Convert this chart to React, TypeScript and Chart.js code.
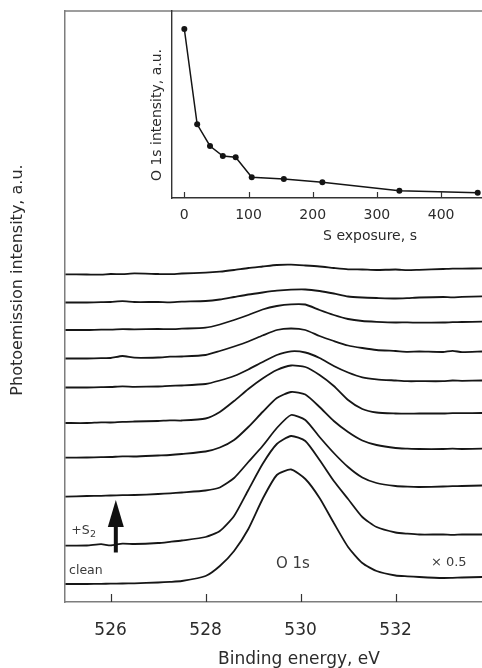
import React, { useEffect, useRef } from "react";
import { Chart, registerables } from "chart.js";

Chart.register(...registerables);

// ---------- Main panel data: O 1s spectra (binding energy, eV) ----------
const energyEV = [525.05, 525.5, 525.8, 526, 526.25, 526.5, 527, 527.25, 527.5, 528, 528.3, 528.6, 528.9, 529.2, 529.5, 529.8, 530.1, 530.4, 530.7, 531.0, 531.3, 531.6, 532, 532.25, 532.5, 533, 533.2, 533.4, 533.82];

// intensity incl. vertical offset (a.u.), top trace = longest S exposure
const spec455s = [327.7, 327.5, 327.3, 328, 327.8, 328.6, 328, 327.8, 328.5, 329.3, 330.3, 332, 334, 335.5, 337, 337.3, 336.5, 335.5, 334, 332.7, 332.5, 332, 332.5, 331.8, 332.2, 333, 333.4, 333.3, 333.7];
const spec335s = [299.5, 299.5, 299.8, 300, 300.8, 300, 300, 299.7, 300.3, 301, 302.5, 305, 307.5, 309.5, 311.3, 312.3, 312.5, 311, 308.5, 305.5, 304.5, 304, 303.5, 303.9, 304.5, 305, 304.6, 305.2, 305.7];
const spec215s = [272, 272, 272.4, 272.3, 272.8, 272.7, 273, 272.8, 273.3, 274.3, 277.5, 282, 287, 292.5, 296, 297.7, 297.5, 292, 287, 283, 281, 280.2, 279.5, 279.6, 279.3, 279.5, 279.8, 280, 280.3];
const spec155s = [243.5, 243.5, 243.8, 244, 246, 244.3, 244.5, 245.3, 245.5, 247, 251, 255.5, 260.5, 266.5, 272, 273.5, 272, 266, 261, 256.5, 254, 252, 251, 250.2, 250.5, 250, 251.2, 249.8, 250.5];
const spec105s = [214.5, 214.5, 214.8, 215, 215.6, 215.2, 215.5, 216.2, 216.5, 218, 221.5, 226, 232.5, 240, 247, 250.7, 249.5, 244, 236, 229.5, 224.7, 222.7, 221.5, 220.8, 220.8, 220.8, 221.5, 221.2, 221.5];
const spec80s = [179, 179, 179.6, 179.5, 180.2, 180.5, 181, 181.6, 181.5, 183.5, 190, 201, 213, 223.5, 232, 236.5, 235, 227, 216, 202, 193, 189.5, 188.5, 188.3, 188.5, 188.5, 188.9, 188.8, 189];
const spec60s = [144.3, 144.5, 144.8, 145, 145.6, 145.5, 146.5, 147, 148, 150.5, 154.5, 162, 175, 190, 204, 210, 207.5, 195, 181, 170, 161.5, 157, 154, 153.4, 153, 153, 153.3, 153, 153.3];
const spec40s = [105.3, 106, 106.2, 106.5, 106.9, 107, 108, 108.6, 109.5, 111.5, 114.5, 124, 140, 156, 174, 187, 182, 165, 149, 135, 124.5, 119, 116, 115.3, 115, 115.5, 115.9, 116, 116.5];
const spec20s = [56.3, 56.5, 57.8, 56.6, 58.4, 58, 59, 60.2, 61.5, 65, 71, 86, 112, 138, 158, 166, 161, 142, 121, 103, 85, 75, 69.5, 68.3, 67.5, 67.5, 67.1, 67.5, 67.5];
const specClean = [18, 18, 18.2, 18.3, 18.5, 18.7, 19.5, 20.1, 21, 26, 36, 51, 73, 103, 127, 132.5, 123, 104, 79, 55, 39, 31, 26.5, 25.7, 25, 24, 24.2, 24.5, 25];

const spectra = [spec455s, spec335s, spec215s, spec155s, spec105s, spec80s, spec60s, spec40s, spec20s, specClean];
const energyTicks = [526, 528, 530, 532];

// ---------- Inset data: O 1s intensity vs S exposure ----------
const exposureS = [0, 20, 40, 60, 80, 105, 155, 215, 335, 457];
const o1sIntensity = [169, 73.7, 52, 42, 40.7, 20.7, 19, 15.7, 7.3, 5.3];
const exposureTicks = [0, 100, 200, 300, 400];

const FONT = '"DejaVu Sans", sans-serif';
const TEXT = "#2b2b2b";

function drawInwardTicks(chart: any, id: string, len: number, color: string, width: number) {
  const s = chart.scales[id];
  const ctx = chart.ctx;
  const bottom = chart.chartArea.bottom;
  ctx.save();
  ctx.strokeStyle = color;
  ctx.lineWidth = width;
  s.ticks.forEach((t: any) => {
    const x = Math.round(s.getPixelForValue(t.value)) + 0.5;
    ctx.beginPath();
    ctx.moveTo(x, bottom);
    ctx.lineTo(x, bottom - len);
    ctx.stroke();
  });
  ctx.restore();
}

const mainPlugin = {
  id: "mainDecor",
  afterDraw(chart: any) {
    const ctx = chart.ctx;
    const { left, right, top } = chart.chartArea;
    const xs = chart.scales.x;
    const ys = chart.scales.y;
    drawInwardTicks(chart, "x", 8, "#333", 1.2);
    ctx.save();
    ctx.strokeStyle = "#7d7d7d";
    ctx.lineWidth = 1.5;
    ctx.beginPath();
    ctx.moveTo(left, top);
    ctx.lineTo(right, top);
    ctx.stroke();

    ctx.fillStyle = TEXT;
    ctx.textAlign = "center";
    ctx.textBaseline = "middle";
    ctx.font = `17px ${FONT}`;
    ctx.fillText("Binding energy, eV", 299, 660);
    ctx.save();
    ctx.translate(18, 280);
    ctx.rotate(-Math.PI / 2);
    ctx.font = `16px ${FONT}`;
    ctx.fillText("Photoemission intensity, a.u.", 0, 0);
    ctx.restore();

    ctx.fillStyle = "#3a3a3a";
    ctx.font = `15px ${FONT}`;
    ctx.fillText("O 1s", xs.getPixelForValue(529.84), ys.getPixelForValue(38));
    ctx.font = `13px ${FONT}`;
    ctx.fillText("\u00d7 0.5", xs.getPixelForValue(533.12), ys.getPixelForValue(39));
    ctx.font = `12.5px ${FONT}`;
    ctx.fillText("clean", xs.getPixelForValue(525.48), ys.getPixelForValue(31));
    ctx.textAlign = "left";
    const sx = xs.getPixelForValue(525.17);
    const sy = ys.getPixelForValue(71.5);
    ctx.font = `12.5px ${FONT}`;
    ctx.fillText("+S", sx, sy);
    const w = ctx.measureText("+S").width;
    ctx.font = `9.5px ${FONT}`;
    ctx.fillText("2", sx + w + 0.5, sy + 4);

    const ax = xs.getPixelForValue(526.11);
    const yBase = ys.getPixelForValue(49.5);
    const yTip = ys.getPixelForValue(102);
    const headLen = 27;
    ctx.strokeStyle = "#111";
    ctx.fillStyle = "#111";
    ctx.lineWidth = 4;
    ctx.beginPath();
    ctx.moveTo(ax, yBase);
    ctx.lineTo(ax, yTip + headLen - 2);
    ctx.stroke();
    ctx.beginPath();
    ctx.moveTo(ax, yTip);
    ctx.lineTo(ax - 8, yTip + headLen);
    ctx.lineTo(ax + 8, yTip + headLen);
    ctx.closePath();
    ctx.fill();
    ctx.restore();
  },
};

const insetPlugin = {
  id: "insetDecor",
  afterDraw(chart: any) {
    const ctx = chart.ctx;
    drawInwardTicks(chart, "x", 6, "#333", 1.2);
    ctx.save();
    ctx.fillStyle = TEXT;
    ctx.textAlign = "center";
    ctx.textBaseline = "middle";
    ctx.font = `14px ${FONT}`;
    ctx.fillText("S exposure, s", 230, 236);
    ctx.translate(17, 115);
    ctx.rotate(-Math.PI / 2);
    ctx.fillText("O 1s intensity, a.u.", 0, 0);
    ctx.restore();
  },
};

function MainChart() {
  const ref = useRef<HTMLCanvasElement>(null);
  useEffect(() => {
    const chart = new Chart(ref.current as HTMLCanvasElement, {
      type: "line",
      data: {
        datasets: spectra.map((s) => ({
          data: energyEV.map((e, i) => ({ x: e, y: s[i] })),
          borderColor: "#161616",
          borderWidth: 1.8,
          pointRadius: 0,
          tension: 0.2,
          fill: false,
        })),
      },
      options: {
        responsive: false,
        maintainAspectRatio: false,
        animation: false,
        events: [],
        layout: { autoPadding: false, padding: { top: 11, left: 0, right: 0, bottom: 0 } },
        plugins: { legend: { display: false }, tooltip: { enabled: false }, title: { display: false } },
        scales: {
          x: {
            type: "linear",
            min: 525.04,
            max: 533.82,
            afterBuildTicks: (s: any) => {
              s.ticks = energyTicks.map((v) => ({ value: v }));
            },
            afterFit: (s: any) => {
              s.height = 66;
            },
            ticks: {
              font: { family: FONT, size: 17 },
              color: TEXT,
              padding: 18,
              maxRotation: 0,
              autoSkip: false,
              callback: (v: any) => String(v),
            },
            grid: { display: false, drawTicks: false },
            border: { display: true, color: "#7d7d7d", width: 1.5 },
          },
          y: {
            type: "linear",
            min: 0,
            max: 591,
            afterFit: (s: any) => {
              s.width = 65;
            },
            ticks: { display: false },
            grid: { display: false, drawTicks: false },
            border: { display: true, color: "#7d7d7d", width: 1.5 },
          },
        },
      } as any,
      plugins: [mainPlugin],
    });
    return () => chart.destroy();
  }, []);
  return (
    <canvas
      ref={ref}
      width={482}
      height={668}
      style={{ position: "absolute", left: 0, top: 0, width: 482, height: 668 }}
    />
  );
}

function InsetChart() {
  const ref = useRef<HTMLCanvasElement>(null);
  useEffect(() => {
    const chart = new Chart(ref.current as HTMLCanvasElement, {
      type: "line",
      data: {
        datasets: [
          {
            data: exposureS.map((e, i) => ({ x: e, y: o1sIntensity[i] })),
            borderColor: "#141414",
            borderWidth: 1.5,
            pointRadius: 3,
            pointBackgroundColor: "#141414",
            pointBorderWidth: 0,
            tension: 0,
            fill: false,
            clip: false,
          },
        ],
      },
      options: {
        responsive: false,
        maintainAspectRatio: false,
        animation: false,
        events: [],
        layout: { autoPadding: false, padding: { top: 11, left: 0, right: 0, bottom: 0 } },
        plugins: { legend: { display: false }, tooltip: { enabled: false }, title: { display: false } },
        scales: {
          x: {
            type: "linear",
            min: -19.2,
            max: 463.7,
            afterBuildTicks: (s: any) => {
              s.ticks = exposureTicks.map((v) => ({ value: v }));
            },
            afterFit: (s: any) => {
              s.height = 52;
            },
            ticks: {
              font: { family: FONT, size: 14 },
              color: TEXT,
              padding: 9,
              maxRotation: 0,
              autoSkip: false,
              callback: (v: any) => String(v),
            },
            grid: { display: false, drawTicks: false },
            border: { display: true, color: "#333", width: 1.4 },
          },
          y: {
            type: "linear",
            min: 0,
            max: 187,
            afterFit: (s: any) => {
              s.width = 32;
            },
            ticks: { display: false },
            grid: { display: false, drawTicks: false },
            border: { display: true, color: "#333", width: 1.4 },
          },
        },
      } as any,
      plugins: [insetPlugin],
    });
    return () => chart.destroy();
  }, []);
  return (
    <canvas
      ref={ref}
      width={342}
      height={250}
      style={{ position: "absolute", left: 140, top: 0, width: 342, height: 250 }}
    />
  );
}

export default function App() {
  return (
    <div style={{ position: "absolute", left: 0, top: 0, width: 482, height: 668, overflow: "hidden", background: "#fff" }}>
      <MainChart />
      <InsetChart />
    </div>
  );
}
